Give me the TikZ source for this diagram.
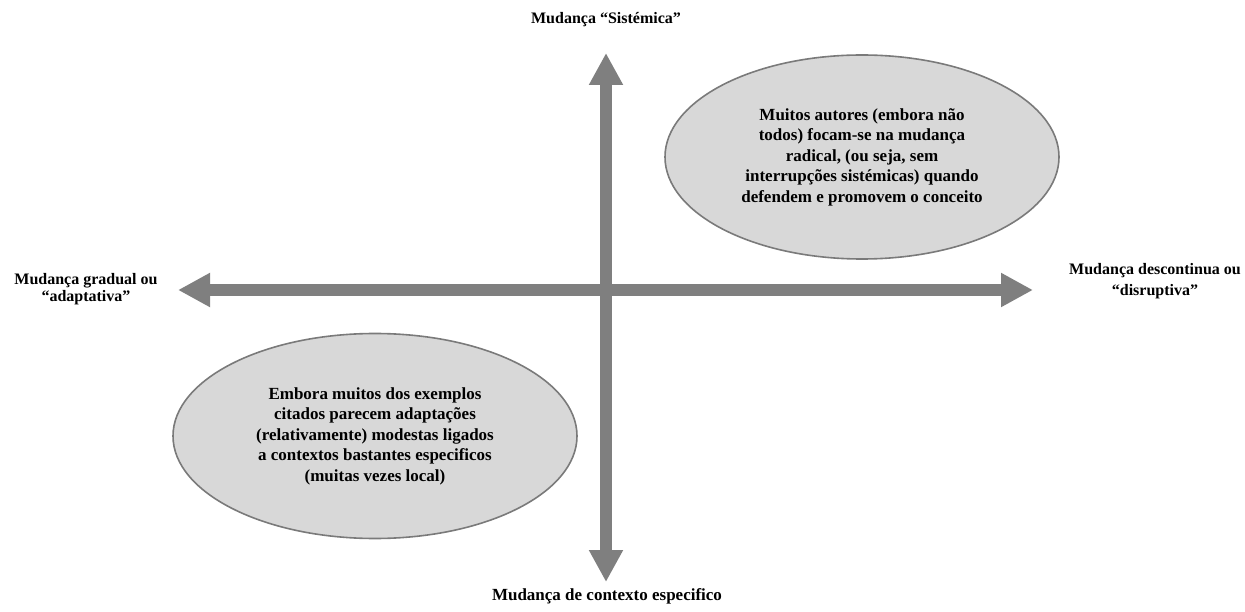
\documentclass[tikz,border=0pt]{standalone}
\usepackage{fontspec}
\setmainfont{Liberation Serif}
\usetikzlibrary{arrows.meta,shapes.geometric}
\definecolor{axisgray}{HTML}{7F7F7F}
\definecolor{bubblefill}{HTML}{D8D8D8}
\definecolor{bubbleline}{HTML}{7A7A7A}
\tikzset{
  axis/.style={draw=axisgray, line width=12pt,
    {Triangle[length=32pt,width=32pt]}-{Triangle[length=32pt,width=32pt]}},
  bubble/.style={ellipse, draw=bubbleline, line width=1.6pt, fill=bubblefill,
    inner sep=0pt, align=center, font=\bfseries\fontsize{17}{20.5}\selectfont},
  axislabel/.style={align=center, inner sep=0pt,
    font=\bfseries\fontsize{16}{19}\selectfont}
}
\begin{document}
\begin{tikzpicture}[x=1pt,y=-1pt]
\useasboundingbox (0,0) rectangle (1245,612);

% axis end points
\coordinate (top) at (606,53);
\coordinate (bottom) at (606,582);
\coordinate (left) at (178,290);
\coordinate (right) at (1033,290);

\draw[axis] (left) -- (right);
\draw[axis] (bottom) -- (top);

% axis labels
\node[axislabel] (ltop) at (606,20) {Mudança “Sistémica”};
\node[axislabel, font=\bfseries\fontsize{17}{20}\selectfont] (lbottom) at (607,596) {Mudança de contexto especifico};
\node[axislabel, font=\bfseries\fontsize{16}{17}\selectfont] (lleft) at (86,289) {Mudança gradual ou\\“adaptativa”};
\node[axislabel, font=\bfseries\fontsize{16}{21}\selectfont] (lright) at (1155,281) {Mudança descontinua ou\\“disruptiva”};

% quadrant notes
\node[bubble, minimum width=394pt, minimum height=204pt] (radical) at (862,157)
  {Muitos autores (embora não\\todos) focam-se na mudança\\radical, (ou seja, sem\\interrupções sistémicas) quando\\defendem e promovem o conceito};
\node[bubble, minimum width=404pt, minimum height=205pt] (gradual) at (375,436)
  {Embora muitos dos exemplos\\citados parecem adaptações\\(relativamente) modestas ligados\\a contextos bastantes especificos\\(muitas vezes local)};
\end{tikzpicture}
\end{document}
